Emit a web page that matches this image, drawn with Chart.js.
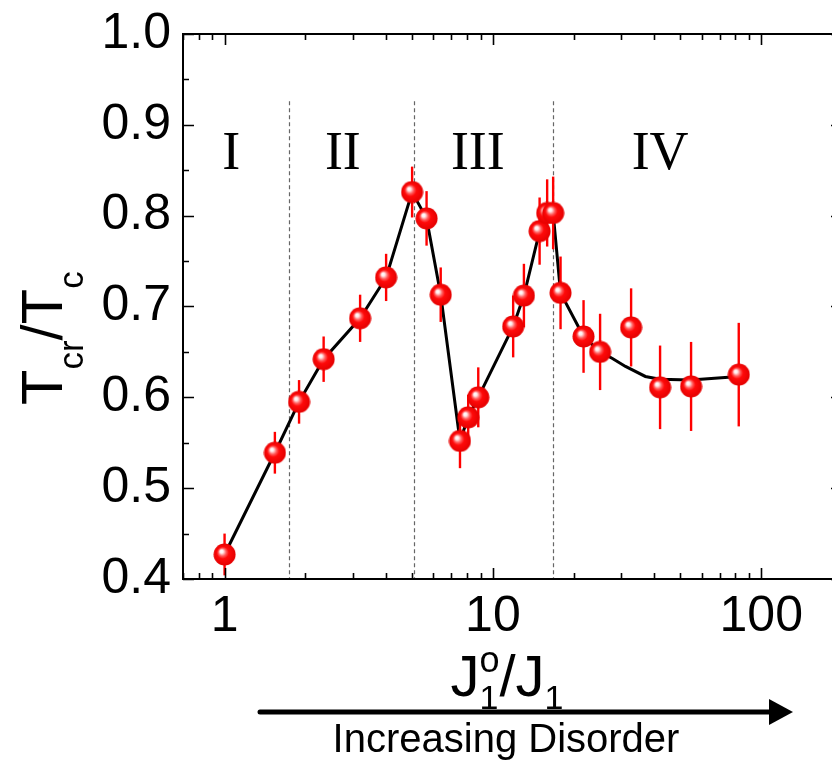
<!DOCTYPE html>
<html>
<head>
<meta charset="utf-8">
<script src="https://cdn.jsdelivr.net/npm/chart.js@4.4.0/dist/chart.umd.min.js"></script>
<style>
    html, body { margin: 0; padding: 0; background: #fff; overflow: hidden; }
    #wrap { width: 832px; height: 762px; overflow: hidden; }
    canvas { display: block; }
</style>
</head>
<body>
<div id="wrap"><canvas id="myChart" width="860" height="762"></canvas></div>
<script>
// measured points: J1o/J1 vs Tcr/Tc, with error bars
const jRatio = [1.0, 1.54, 1.895, 2.34, 3.2, 4.0, 5.0, 5.66, 6.39, 7.54, 8.09, 8.82,
    11.9, 13.05, 14.93, 15.93, 16.77, 17.87, 21.77, 25.09, 32.74, 41.98, 54.77, 82.46];
const tcRatio = [0.427, 0.539, 0.595, 0.642, 0.687, 0.732, 0.826, 0.797, 0.713, 0.552, 0.578, 0.600,
    0.678, 0.712, 0.783, 0.803, 0.803, 0.715, 0.667, 0.650, 0.677, 0.611, 0.612, 0.625];
const tcErr = [0.023, 0.023, 0.024, 0.025, 0.026, 0.026, 0.028, 0.030, 0.030, 0.030, 0.025, 0.033,
    0.034, 0.035, 0.037, 0.037, 0.040, 0.040, 0.040, 0.042, 0.043, 0.046, 0.049, 0.057];

// guide line: joins the first 20 points, then a smooth tail in region IV
const lineCount = 20;
const tailJ = [27.8, 31.2, 37.0, 41.9, 54.6, 82.4];
const tailTc = [0.643, 0.634, 0.623, 0.620, 0.619, 0.623];

const xTickLabels = [1, 10, 100];
const yTickLabels = [0.4, 0.5, 0.6, 0.7, 0.8, 0.9, 1.0];

const regionBounds = [1.74, 5.09, 16.75];
const regionNames = ['I', 'II', 'III', 'IV'];
const regionCenters = [1.06, 2.76, 8.79, 42];

const points = jRatio.map((v, i) => ({x: v, y: tcRatio[i]}));
const trend = jRatio.slice(0, lineCount).map((v, i) => ({x: v, y: tcRatio[i]}))
    .concat(tailJ.map((v, i) => ({x: v, y: tailTc[i]})));

// shaded red ball marker
const ball = document.createElement('canvas');
ball.width = 23;
ball.height = 23;
let bc = ball.getContext('2d');
let g = bc.createRadialGradient(8, 8, 0, 11.5, 11.5, 11.5);
g.addColorStop(0, '#ffffff');
g.addColorStop(0.14, '#fff0f0');
g.addColorStop(0.34, '#ff5c5c');
g.addColorStop(0.52, '#ff0a0a');
g.addColorStop(1, '#e20000');
bc.fillStyle = g;
bc.beginPath();
bc.arc(11.5, 11.5, 11, 0, Math.PI * 2);
bc.fill();

function drawParts(ctx, parts, x, y) {
    parts.forEach(p => {
        if (p.stack) {
            let w = 0;
            p.stack.forEach(s => {
                ctx.font = s.size + 'px "Liberation Sans"';
                ctx.fillText(s.t, x, y + s.dy);
                w = Math.max(w, ctx.measureText(s.t).width);
            });
            x += w;
        } else {
            ctx.font = p.size + 'px "Liberation Sans"';
            ctx.fillText(p.t, x, y + (p.dy || 0));
            x += ctx.measureText(p.t).width;
        }
    });
    return x;
}

function partsWidth(ctx, parts) {
    let w = 0;
    parts.forEach(p => {
        if (p.stack) {
            let m = 0;
            p.stack.forEach(s => {
                ctx.font = s.size + 'px "Liberation Sans"';
                m = Math.max(m, ctx.measureText(s.t).width);
            });
            w += m;
        } else {
            ctx.font = p.size + 'px "Liberation Sans"';
            w += ctx.measureText(p.t).width;
        }
    });
    return w;
}

const decor = {
    id: 'decor',
    beforeDatasetsDraw(chart) {
        const {ctx, chartArea: a, scales: {x, y}} = chart;
        ctx.save();
        ctx.strokeStyle = '#666';
        ctx.lineWidth = 1.2;
        ctx.setLineDash([4, 3]);
        regionBounds.forEach(v => {
            let px = Math.round(x.getPixelForValue(v)) + 0.5;
            ctx.beginPath();
            ctx.moveTo(px, y.getPixelForValue(0.926));
            ctx.lineTo(px, a.bottom);
            ctx.stroke();
        });
        ctx.setLineDash([]);
        ctx.fillStyle = '#000';
        ctx.font = '54px "Liberation Serif"';
        ctx.textAlign = 'center';
        ctx.textBaseline = 'alphabetic';
        regionNames.forEach((t, i) => {
            ctx.fillText(t, x.getPixelForValue(regionCenters[i]), y.getPixelForValue(0.851));
        });
        ctx.restore();
    },
    beforeDatasetDraw(chart, args) {
        if (args.index !== 0) return;
        const {ctx, scales: {x, y}} = chart;
        ctx.save();
        ctx.strokeStyle = '#ff0000';
        ctx.lineWidth = 2.4;
        jRatio.forEach((v, i) => {
            let px = x.getPixelForValue(v);
            ctx.beginPath();
            ctx.moveTo(px, y.getPixelForValue(tcRatio[i] - tcErr[i]));
            ctx.lineTo(px, y.getPixelForValue(tcRatio[i] + tcErr[i]));
            ctx.stroke();
        });
        ctx.restore();
    },
    afterDraw(chart) {
        const {ctx, chartArea: a, scales: {x, y}} = chart;
        ctx.save();
        ctx.strokeStyle = '#000';
        ctx.lineWidth = 2;
        ctx.strokeRect(a.left, a.top, a.right - a.left, a.bottom - a.top);

        // inward ticks on all four sides
        ctx.lineWidth = 1.6;
        ctx.beginPath();
        for (let e = -1; e <= 2; e++) {
            for (let m = 1; m <= 9; m++) {
                let v = m * Math.pow(10, e);
                if (v < 0.7 || v > 200) continue;
                let px = Math.round(x.getPixelForValue(v)) + 0.5;
                let len = m === 1 ? 11 : 6;
                ctx.moveTo(px, a.bottom); ctx.lineTo(px, a.bottom - len);
                ctx.moveTo(px, a.top); ctx.lineTo(px, a.top + len);
            }
        }
        for (let k = 0; k <= 12; k++) {
            let v = 0.4 + k * 0.05;
            let py = Math.round(y.getPixelForValue(v)) + 0.5;
            let len = k % 2 === 0 ? 11 : 6;
            ctx.moveTo(a.left, py); ctx.lineTo(a.left + len, py);
            ctx.moveTo(a.right, py); ctx.lineTo(a.right - len, py);
        }
        ctx.stroke();

        ctx.fillStyle = '#000';
        ctx.textAlign = 'left';
        ctx.textBaseline = 'alphabetic';

        // y title: Tcr/Tc rotated
        ctx.save();
        ctx.translate(62, 405);
        ctx.rotate(-Math.PI / 2);
        drawParts(ctx, [
            {t: 'T', size: 58},
            {t: 'cr', size: 35, dy: 21},
            {t: '/', size: 58},
            {t: 'T', size: 58},
            {t: 'c', size: 35, dy: 21}
        ], 0, 0);
        ctx.restore();

        // x title: J1o/J1
        const xt = [
            {t: 'J', size: 58},
            {stack: [{t: '1', size: 34, dy: 13}, {t: 'o', size: 36, dy: -24}]},
            {t: '/', size: 58},
            {t: 'J', size: 58},
            {t: '1', size: 34, dy: 13}
        ];
        let w = partsWidth(ctx, xt);
        drawParts(ctx, xt, 507 - w / 2, 696);

        // arrow
        ctx.lineWidth = 5;
        ctx.lineCap = 'round';
        ctx.beginPath();
        ctx.moveTo(260, 712);
        ctx.lineTo(775, 712);
        ctx.stroke();
        ctx.beginPath();
        ctx.moveTo(793, 712);
        ctx.lineTo(769, 699);
        ctx.lineTo(769, 725);
        ctx.closePath();
        ctx.fill();

        ctx.font = '40px "Liberation Sans"';
        ctx.textAlign = 'center';
        ctx.fillText('Increasing Disorder', 506, 752);
        ctx.restore();
    }
};

const tickFont = {family: '"Liberation Sans", Arial, sans-serif', size: 50};

const ctx = document.getElementById('myChart').getContext('2d');
const myChart = new Chart(ctx, {
    type: 'scatter',
    data: {
        datasets: [{
            data: points,
            pointStyle: ball,
            pointRadius: 11,
            pointHoverRadius: 11,
            showLine: false
        }, {
            data: trend,
            showLine: true,
            borderColor: '#000',
            borderWidth: 3,
            pointRadius: 0,
            tension: 0
        }]
    },
    options: {
        responsive: false,
        animation: false,
        devicePixelRatio: 1,
        events: [],
        layout: {padding: {top: 34, right: 18, left: 0, bottom: 0}},
        plugins: {legend: {display: false}, tooltip: {enabled: false}},
        scales: {
            x: {
                type: 'logarithmic',
                min: 0.7,
                max: 200,
                afterFit: s => { s.height = 183; s.paddingLeft = 0; s.paddingRight = 0; },
                afterBuildTicks: s => { s.ticks = xTickLabels.map(v => ({value: v})); },
                grid: {display: false, drawTicks: false},
                border: {display: false},
                ticks: {
                    font: tickFont, color: '#000', padding: 8,
                    maxRotation: 0, autoSkip: false,
                    callback: v => String(v)
                }
            },
            y: {
                min: 0.4,
                max: 1.0,
                afterFit: s => { s.width = 183; s.paddingTop = 0; s.paddingBottom = 0; },
                afterBuildTicks: s => { s.ticks = yTickLabels.map(v => ({value: v})); },
                grid: {display: false, drawTicks: false},
                border: {display: false},
                ticks: {
                    font: tickFont, color: '#000', padding: 12,
                    callback: v => v.toFixed(1)
                }
            }
        }
    },
    plugins: [decor]
});
</script>
</body>
</html>
